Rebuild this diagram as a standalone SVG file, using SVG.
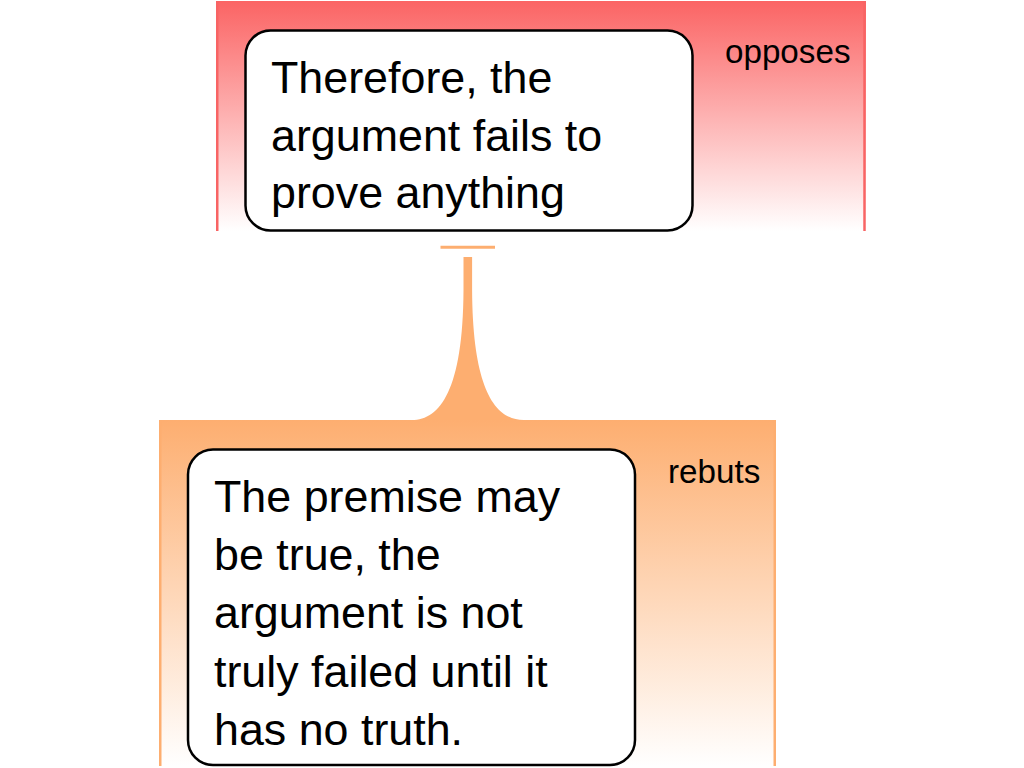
<svg xmlns="http://www.w3.org/2000/svg" width="1024" height="768" viewBox="0 0 1024 768">
  <defs>
    <linearGradient id="gRed" x1="0" y1="0" x2="0" y2="1">
      <stop offset="0" stop-color="#fb6464"/>
      <stop offset="1" stop-color="#ffffff"/>
    </linearGradient>
    <linearGradient id="gOrange" x1="0" y1="0" x2="0" y2="1">
      <stop offset="0" stop-color="#fdae70"/>
      <stop offset="1" stop-color="#ffffff"/>
    </linearGradient>
  </defs>
  <style>
    .node { fill: #ffffff; stroke: #000000; stroke-width: 2.5; }
    .txt { font-family: "Liberation Sans", Arial, sans-serif; font-size: 44.8px; fill: #000000; }
    .lbl { font-family: "Liberation Sans", Arial, sans-serif; font-size: 33.2px; fill: #000000; }
    .redEdge { stroke: #f86464; stroke-width: 2.5; }
    .orEdge { stroke: #fdae70; stroke-width: 2.5; }
  </style>

  <g id="group-opposes">
    <rect x="216" y="1" width="650" height="230" fill="url(#gRed)"/>
    <line class="redEdge" x1="217.25" y1="1" x2="217.25" y2="231"/>
    <line class="redEdge" x1="864.5" y1="1" x2="864.5" y2="231"/>
    <text class="lbl" x="725" y="63">opposes</text>
  </g>

  <g id="group-rebuts">
    <rect x="159" y="420" width="617" height="346" fill="url(#gOrange)"/>
    <line class="orEdge" x1="160.25" y1="420" x2="160.25" y2="766"/>
    <line class="orEdge" x1="774.75" y1="420" x2="774.75" y2="766"/>
    <text class="lbl" x="668" y="483">rebuts</text>
  </g>

  <g id="connectors">
    <line x1="440.5" y1="247.3" x2="495" y2="247.3" stroke="#fdae70" stroke-width="3"/>
    <path d="M463.5 257 L463.5 290 C463 390 440 420 412 420 L523.6 420 C495.6 420 472.6 390 472.1 290 L472.1 257 Z" fill="#fdae70"/>
  </g>

  <g id="node-conclusion">
    <rect class="node" x="245.5" y="30.5" width="447" height="200" rx="25" ry="25"/>
    <text class="txt" x="271" y="93">Therefore, the</text>
    <text class="txt" x="271" y="151">argument fails to</text>
    <text class="txt" x="271" y="208">prove anything</text>
  </g>

  <g id="node-premise">
    <rect class="node" x="188" y="449.5" width="447" height="315.5" rx="25" ry="25"/>
    <text class="txt" x="214" y="512">The premise may</text>
    <text class="txt" x="214" y="570">be true, the</text>
    <text class="txt" x="214" y="628">argument is not</text>
    <text class="txt" x="214" y="687">truly failed until it</text>
    <text class="txt" x="214" y="745">has no truth.</text>
  </g>
</svg>
